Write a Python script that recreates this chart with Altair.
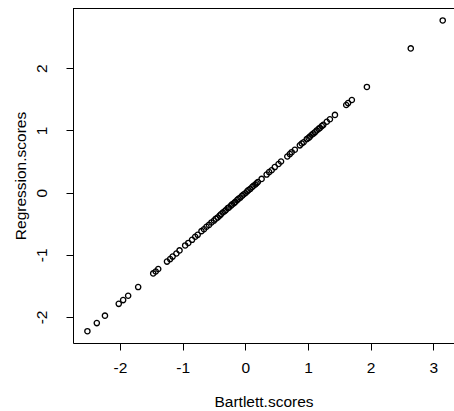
import altair as alt
import pandas as pd

bartlett = [-2.52, -2.37, -2.24, -2.02, -1.95, -1.87, -1.71, -1.47, -1.43, -1.39,
            -1.25, -1.20, -1.16, -1.10, -1.05, -0.96, -0.91, -0.85, -0.80, -0.76,
            -0.70, -0.66, -0.62, -0.58, -0.54, -0.50, -0.47, -0.44, -0.41, -0.39,
            -0.36, -0.33, -0.31, -0.28, -0.26, -0.23, -0.21, -0.18, -0.16, -0.13,
            -0.11, -0.08, -0.05, -0.03, 0.00, 0.03, 0.05, 0.08, 0.11, 0.13,
            0.16, 0.18, 0.20, 0.26, 0.34, 0.38, 0.42, 0.47, 0.53, 0.57,
            0.67, 0.71, 0.74, 0.79, 0.87, 0.90, 0.93, 0.98, 1.01, 1.03,
            1.06, 1.085, 1.11, 1.14, 1.17, 1.19, 1.22, 1.245, 1.30, 1.35,
            1.43, 1.61, 1.64, 1.70, 1.94, 2.64, 3.15]
regression = [-2.23, -2.10, -1.98, -1.79, -1.73, -1.66, -1.52, -1.30, -1.27, -1.23,
              -1.11, -1.07, -1.03, -0.98, -0.93, -0.85, -0.81, -0.76, -0.71, -0.68,
              -0.62, -0.59, -0.55, -0.52, -0.48, -0.45, -0.42, -0.40, -0.37, -0.35,
              -0.32, -0.30, -0.28, -0.25, -0.24, -0.21, -0.19, -0.17, -0.15, -0.12,
              -0.10, -0.08, -0.05, -0.03, -0.01, 0.02, 0.04, 0.06, 0.09, 0.11,
              0.13, 0.15, 0.17, 0.22, 0.29, 0.33, 0.36, 0.41, 0.46, 0.50,
              0.58, 0.62, 0.65, 0.69, 0.76, 0.79, 0.81, 0.86, 0.88, 0.90,
              0.93, 0.95, 0.97, 1.00, 1.025, 1.04, 1.07, 1.09, 1.14, 1.18,
              1.25, 1.41, 1.44, 1.49, 1.70, 2.32, 2.77]

x_ticks = [-2, -1, 0, 1, 2, 3]
y_ticks = [-2, -1, 0, 1, 2]

df = pd.DataFrame({"bartlett": bartlett, "regression": regression})

W, H = 381, 335
FONT = "Liberation Sans"
FS = 15.5

points = alt.Chart(df).mark_point(
    shape="circle", filled=False, size=28, strokeWidth=1.3, color="black", opacity=1
).encode(
    x=alt.X("bartlett:Q", title="Bartlett.scores",
            scale=alt.Scale(domain=[-2.75, 3.33], nice=False, zero=False),
            axis=alt.Axis(values=x_ticks, grid=False, tickSize=7, labelPadding=10,
                          labelBaseline="top", labelFontSize=FS, labelFont=FONT,
                          labelExpr="'' + datum.value",
                          titleFontSize=FS, titleFont=FONT, titleFontWeight="normal",
                          titleY=63, titleBaseline="alphabetic",
                          domainColor="black", tickColor="black",
                          labelColor="black", titleColor="black")),
    y=alt.Y("regression:Q", title="Regression.scores",
            scale=alt.Scale(domain=[-2.42, 2.97], nice=False, zero=False),
            axis=alt.Axis(values=y_ticks, grid=False, tickSize=7, labelPadding=17,
                          labelAngle=-90, labelAlign="center", labelBaseline="bottom",
                          labelFontSize=FS, labelFont=FONT,
                          labelExpr="'' + datum.value",
                          titleFontSize=FS, titleFont=FONT, titleFontWeight="normal",
                          titleX=-48, titleBaseline="alphabetic", titleAngle=270,
                          domainColor="black", tickColor="black",
                          labelColor="black", titleColor="black")),
)

top = alt.Chart(df).mark_rule(color="black", strokeWidth=1).encode(
    x=alt.value(0), x2=alt.value(W), y=alt.value(0.5)
)

chart = alt.layer(points, top).properties(
    width=W, height=H,
    autosize=alt.AutoSizeParams(type="none"),
    padding={"left": 73, "top": 8, "right": 0, "bottom": 68},
).configure_view(stroke=None).configure(background="white")

chart.save("out.html", embed_options={"renderer": "svg", "actions": False})
